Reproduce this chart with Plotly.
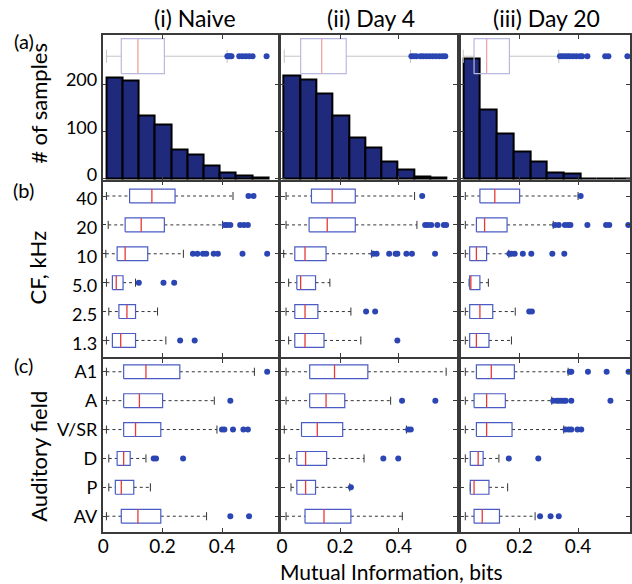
import plotly.graph_objects as go
from plotly.subplots import make_subplots

# ---------------- data ----------------
col_titles = ["(i) Naive", "(ii) Day 4", "(iii) Day 20"]
cf_labels = ["40", "20", "10", "5.0", "2.5", "1.3"]
field_labels = ["A1", "A", "V/SR", "D", "P", "AV"]
x_ticks = [0, 0.2, 0.4]
count_ticks = [0, 100, 200]

# (a) histograms: counts per bin, first bin edge, bin width
counts_naive = [215, 208, 135, 114, 62, 51, 28, 13, 7, 2]
counts_day4 = [219, 210, 181, 135, 87, 66, 36, 19, 6, 3]
counts_day20 = [254, 147, 96, 57, 37, 14, 12, 0, 0, 1]
bin_start = [0.011, 0.006, 0.007]
bin_width = [0.0545, 0.0558, 0.0573]

# (a) overall box summaries: lo, q1, med, q3, hi
all_naive = [0.011, 0.061, 0.117, 0.206, 0.417]
all_day4 = [0.008, 0.064, 0.136, 0.220, 0.440]
all_day20 = [0.007, 0.044, 0.087, 0.165, 0.334]
all_naive_out = [0.418, 0.422, 0.427, 0.432, 0.458, 0.469, 0.480, 0.491, 0.503, 0.550]
all_day4_out = [0.443, 0.451, 0.460, 0.474, 0.483, 0.494, 0.505, 0.516, 0.527, 0.539, 0.550, 0.559]
all_day20_out = [0.338, 0.346, 0.355, 0.364, 0.372, 0.383, 0.394, 0.406, 0.414, 0.432, 0.493, 0.504, 0.569]

# (b) CF boxes (order: 40, 20, 10, 5.0, 2.5, 1.3)
cf_naive_lo = [0.011, 0.017, 0.009, 0.011, 0.019, 0.011]
cf_naive_q1 = [0.089, 0.074, 0.047, 0.031, 0.053, 0.031]
cf_naive_med = [0.164, 0.128, 0.074, 0.044, 0.080, 0.059]
cf_naive_q3 = [0.242, 0.206, 0.150, 0.067, 0.109, 0.109]
cf_naive_hi = [0.437, 0.402, 0.270, 0.109, 0.183, 0.211]
cf_naive_out = [[0.489, 0.506], [0.409, 0.417, 0.428, 0.461, 0.474, 0.487],
                [0.302, 0.317, 0.336, 0.347, 0.372, 0.386, 0.469, 0.552],
                [0.120, 0.203, 0.239], [], [0.259, 0.308]]

cf_day4_lo = [0.014, 0.014, 0.006, 0.023, 0.014, 0.023]
cf_day4_q1 = [0.101, 0.093, 0.044, 0.051, 0.044, 0.044]
cf_day4_med = [0.172, 0.155, 0.079, 0.064, 0.079, 0.079]
cf_day4_q3 = [0.251, 0.251, 0.151, 0.115, 0.123, 0.144]
cf_day4_hi = [0.454, 0.462, 0.307, 0.164, 0.236, 0.270]
cf_day4_out = [[0.480], [0.490, 0.499, 0.511, 0.532, 0.554, 0.562],
               [0.313, 0.324, 0.367, 0.389, 0.395, 0.426, 0.445, 0.524],
               [], [0.288, 0.319], [0.395]]

cf_day20_lo = [0.014, 0.014, 0.014, 0.027, 0.014, 0.014]
cf_day20_q1 = [0.064, 0.052, 0.029, 0.029, 0.029, 0.029]
cf_day20_med = [0.115, 0.080, 0.052, 0.033, 0.064, 0.052]
cf_day20_q3 = [0.200, 0.157, 0.087, 0.064, 0.108, 0.095]
cf_day20_hi = [0.400, 0.315, 0.163, 0.093, 0.185, 0.172]
cf_day20_out = [[0.409], [0.321, 0.334, 0.355, 0.366, 0.374, 0.432, 0.496, 0.507, 0.572],
                [0.165, 0.172, 0.183, 0.211, 0.240, 0.312, 0.353],
                [], [0.233, 0.242], []]

# (c) auditory field boxes (order: A1, A, V/SR, D, P, AV)
fd_naive_lo = [0.011, 0.011, 0.011, 0.019, 0.019, 0.011]
fd_naive_q1 = [0.069, 0.069, 0.069, 0.047, 0.041, 0.061]
fd_naive_med = [0.144, 0.122, 0.109, 0.069, 0.061, 0.117]
fd_naive_q3 = [0.258, 0.200, 0.194, 0.091, 0.103, 0.194]
fd_naive_hi = [0.509, 0.374, 0.383, 0.144, 0.159, 0.348]
fd_naive_out = [[0.552], [0.428], [0.400, 0.408, 0.437, 0.472, 0.487],
                [0.170, 0.178, 0.269], [], [0.428, 0.491]]

fd_day4_lo = [0.014, 0.014, 0.008, 0.025, 0.031, 0.014]
fd_day4_q1 = [0.095, 0.095, 0.067, 0.051, 0.051, 0.079]
fd_day4_med = [0.180, 0.151, 0.121, 0.081, 0.081, 0.144]
fd_day4_q3 = [0.294, 0.215, 0.208, 0.153, 0.115, 0.236]
fd_day4_hi = [0.562, 0.372, 0.426, 0.281, 0.232, 0.412]
fd_day4_out = [[], [0.411, 0.525], [0.432, 0.441], [0.347, 0.398], [0.236], []]

fd_day20_lo = [0.014, 0.014, 0.014, 0.014, 0.031, 0.014]
fd_day20_q1 = [0.052, 0.044, 0.052, 0.031, 0.031, 0.044]
fd_day20_med = [0.103, 0.087, 0.087, 0.058, 0.044, 0.072]
fd_day20_q3 = [0.182, 0.151, 0.174, 0.075, 0.095, 0.131]
fd_day20_hi = [0.366, 0.310, 0.351, 0.129, 0.159, 0.253]
fd_day20_out = [[0.372, 0.377, 0.434, 0.498, 0.573],
                [0.315, 0.327, 0.334, 0.343, 0.351, 0.358, 0.377, 0.511],
                [0.357, 0.368, 0.377, 0.398, 0.411],
                [0.163, 0.264], [], [0.270, 0.306, 0.334]]

# ---------------- styling ----------------
FONT = "Lato"
BAR_FILL = "#1f2a7c"
BOX_BLUE = "#4a5cc4"
MED_RED = "#e8383a"
OUT_BLUE = "#2b46b3"
FRAME = "#3a3a3a"

fig = make_subplots(rows=3, cols=3)

cat_pos = [6, 5, 4, 3, 2, 1]


def add_boxes(row, col, ypos, lo, q1, med, q3, hi, outs, half, caph,
              box_col, med_col, wh_col, wh_dash):
    bx, by, mx, my, wx, wy, cx, cy, ox, oy = ([] for _ in range(10))
    for y, a, b, c, d, e, o in zip(ypos, lo, q1, med, q3, hi, outs):
        bx += [b, d, d, b, b, None]
        by += [y - half, y - half, y + half, y + half, y - half, None]
        mx += [c, c, None]
        my += [y - half, y + half, None]
        wx += [a, b, None, d, e, None]
        wy += [y, y, None, y, y, None]
        cx += [a, a, None, e, e, None]
        cy += [y - caph, y + caph, None, y - caph, y + caph, None]
        ox += list(o)
        oy += [y] * len(o)
    fig.add_trace(go.Scatter(x=wx, y=wy, mode="lines",
                             line=dict(color=wh_col, width=1, dash=wh_dash)), row=row, col=col)
    fig.add_trace(go.Scatter(x=cx, y=cy, mode="lines",
                             line=dict(color=wh_col, width=1)), row=row, col=col)
    fig.add_trace(go.Scatter(x=bx, y=by, mode="lines",
                             line=dict(color=box_col, width=1.2)), row=row, col=col)
    fig.add_trace(go.Scatter(x=mx, y=my, mode="lines",
                             line=dict(color=med_col, width=1.3)), row=row, col=col)
    fig.add_trace(go.Scatter(x=ox, y=oy, mode="markers",
                             marker=dict(color=OUT_BLUE, size=6)), row=row, col=col)


hist_sets = [counts_naive, counts_day4, counts_day20]
all_sets = [(all_naive, all_naive_out), (all_day4, all_day4_out), (all_day20, all_day20_out)]
cf_sets = [
    (cf_naive_lo, cf_naive_q1, cf_naive_med, cf_naive_q3, cf_naive_hi, cf_naive_out),
    (cf_day4_lo, cf_day4_q1, cf_day4_med, cf_day4_q3, cf_day4_hi, cf_day4_out),
    (cf_day20_lo, cf_day20_q1, cf_day20_med, cf_day20_q3, cf_day20_hi, cf_day20_out),
]
fd_sets = [
    (fd_naive_lo, fd_naive_q1, fd_naive_med, fd_naive_q3, fd_naive_hi, fd_naive_out),
    (fd_day4_lo, fd_day4_q1, fd_day4_med, fd_day4_q3, fd_day4_hi, fd_day4_out),
    (fd_day20_lo, fd_day20_q1, fd_day20_med, fd_day20_q3, fd_day20_hi, fd_day20_out),
]

for ci in range(3):
    col = ci + 1
    counts = hist_sets[ci]
    centers = [bin_start[ci] + bin_width[ci] * (k + 0.5) for k in range(len(counts))]
    fig.add_trace(go.Bar(x=centers, y=counts, width=bin_width[ci],
                         marker=dict(color=BAR_FILL, line=dict(color="black", width=2))),
                  row=1, col=col)
    stats, outs = all_sets[ci]
    add_boxes(1, col, [259], [stats[0]], [stats[1]], [stats[2]], [stats[3]], [stats[4]], [outs],
              37, 14, "#b9b9df", "#f2a3a3", "#c4c4c4", "solid")
    add_boxes(2, col, cat_pos, *cf_sets[ci], 0.24, 0.14, BOX_BLUE, MED_RED, "#333333", "dot")
    add_boxes(3, col, cat_pos, *fd_sets[ci], 0.24, 0.14, BOX_BLUE, MED_RED, "#333333", "dot")

W, H = 632, 584
x_dom_px = [(98.5, 276), (279, 456), (460, 631)]
x_rng = [[-0.002, 0.5897], [-0.002, 0.598], [-0.002, 0.578]]
y_dom_px = [(35.7, 181.7), (183.3, 360), (362, 536.7)]
y_rng = [[-2.9, 303], [0.43, 6.494], [0.45, 6.446]]
# ticklabelshift on y axes acts in pixel direction (positive = down)
y_shift = [-4, 3, 0]

axis_common = dict(showgrid=False, zeroline=False, showline=True, mirror="ticks",
                   linecolor=FRAME, linewidth=1.5, ticks="inside", ticklen=4,
                   tickcolor=FRAME, tickfont=dict(family=FONT, size=18, color="black"))

for r in range(3):
    for c in range(3):
        idx = r * 3 + c + 1
        xs = "xaxis" if idx == 1 else f"xaxis{idx}"
        ys = "yaxis" if idx == 1 else f"yaxis{idx}"
        xd = [x_dom_px[c][0] / W, x_dom_px[c][1] / W]
        yd = [1 - y_dom_px[r][1] / H, 1 - y_dom_px[r][0] / H]
        xa = dict(axis_common, domain=xd, range=x_rng[c], tickvals=x_ticks,
                  ticktext=["0", "0.2", "0.4"], showticklabels=(r == 2),
                  ticklabelstandoff=-4,
                  tickfont=dict(family=FONT, size=19, color="black"))
        if r == 0:
            ya = dict(axis_common, domain=yd, range=y_rng[r], tickvals=count_ticks,
                      ticktext=[str(v) for v in count_ticks], showticklabels=(c == 0),
                      ticklabelshift=y_shift[r])
        else:
            labels = cf_labels if r == 1 else field_labels
            ya = dict(axis_common, domain=yd, range=y_rng[r], tickvals=cat_pos,
                      ticktext=labels, showticklabels=(c == 0),
                      ticklabelshift=y_shift[r])
        fig.update_layout({xs: xa, ys: ya})


def paper_text(text, xpx, ypx, size=18, angle=0):
    return dict(text=text, x=xpx / W, y=1 - ypx / H, xref="paper", yref="paper",
                xanchor="center", yanchor="middle", showarrow=False, textangle=angle,
                font=dict(family=FONT, size=size, color="black"))


ann = []
title_x = [192, 370, 547]
for c in range(3):
    ann.append(paper_text(col_titles[c], title_x[c], 18, size=23))
for lab, ypx in [("(a)", 41), ("(b)", 192), ("(c)", 368)]:
    ann.append(paper_text(lab, 19, ypx, size=20))
for lab, ypx in [("# of samples", 104), ("CF, kHz", 270), ("Auditory field", 460)]:
    ann.append(paper_text(lab, 33, ypx, size=22, angle=-90))
ann.append(paper_text("Mutual Information, bits", 390, 576.5, size=21))

fig.update_layout(width=W, height=H, margin=dict(l=0, r=0, t=0, b=0),
                  paper_bgcolor="white", plot_bgcolor="white", showlegend=False,
                  bargap=0, annotations=ann, font=dict(family=FONT))

fig.write_html("out.html")
